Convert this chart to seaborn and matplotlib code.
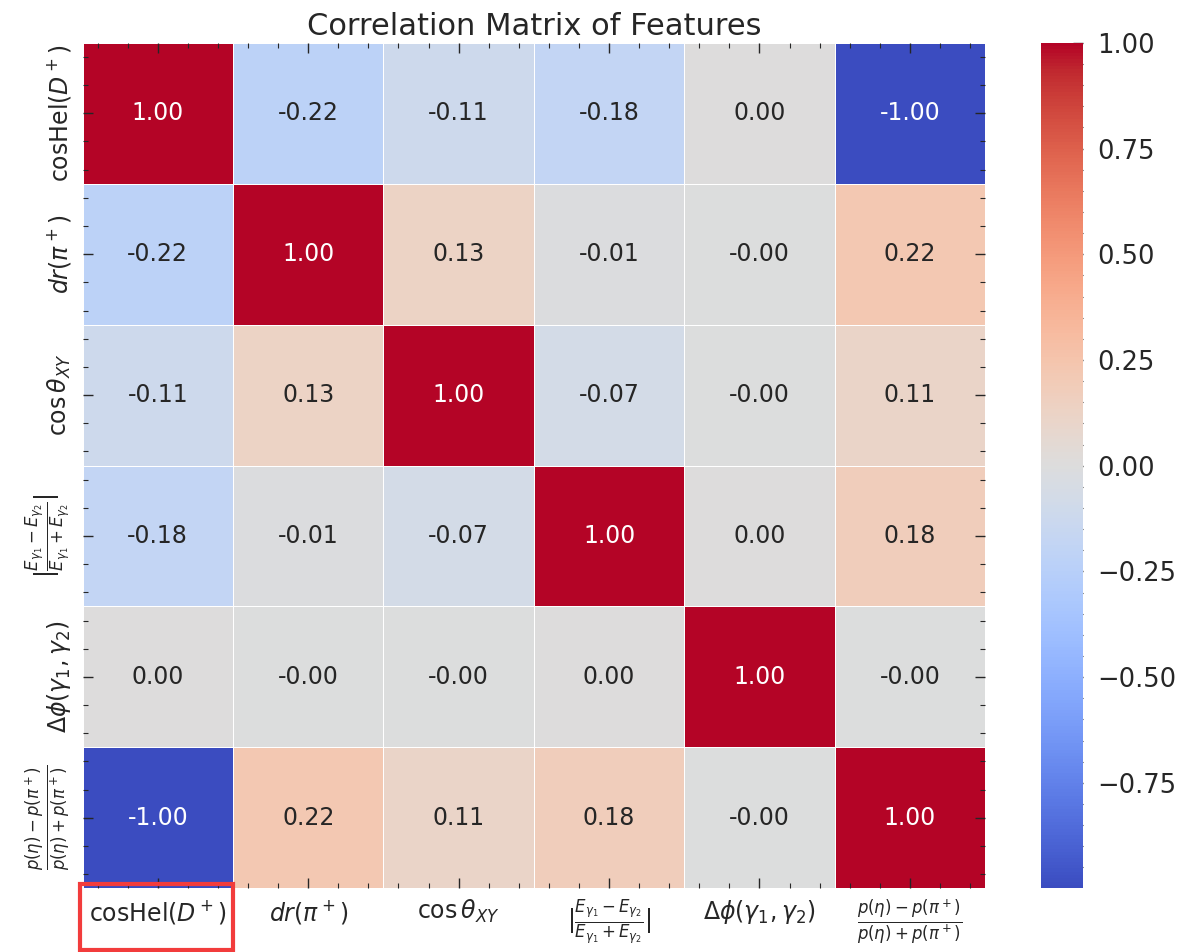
import numpy as np
import pandas as pd
import matplotlib
matplotlib.use("Agg")
import matplotlib.pyplot as plt
import matplotlib.patches as patches
import seaborn as sns

# feature labels (mathtext)
features = [
    r'cosHel$(D^+)$',
    r'$dr(\pi^+)$',
    r'$\cos\theta_{XY}$',
    r'$|\frac{E_{\gamma_1} - E_{\gamma_2}}{E_{\gamma_1} + E_{\gamma_2}}|$',
    r'$\Delta\phi(\gamma_1, \gamma_2)$',
    r'$\frac{p(\eta) - p(\pi^+)}{p(\eta) + p(\pi^+)}$',
]

# correlation values, row by row
row_coshel = [1.00, -0.22, -0.11, -0.18, 0.002, -0.999]
row_dr = [-0.22, 1.00, 0.13, -0.01, -0.002, 0.22]
row_costheta = [-0.11, 0.13, 1.00, -0.07, -0.002, 0.11]
row_easym = [-0.18, -0.01, -0.07, 1.00, 0.002, 0.18]
row_dphi = [0.002, -0.002, -0.002, 0.002, 1.00, -0.002]
row_pasym = [-0.999, 0.22, 0.11, 0.18, -0.002, 1.00]

corr = pd.DataFrame([row_coshel, row_dr, row_costheta, row_easym, row_dphi, row_pasym],
                    index=features, columns=features)

sns.set_theme(style="white")
plt.rcParams.update({
    'xtick.direction': 'in',
    'ytick.direction': 'in',
    'xtick.top': True,
    'xtick.bottom': True,
    'ytick.left': True,
    'ytick.right': True,
    'xtick.minor.visible': True,
    'ytick.minor.visible': True,
})

fig = plt.figure(figsize=(11.97, 9.52), dpi=100)
ax = fig.add_axes([0.069, 0.067, 0.754, 0.888])
cax = fig.add_axes([0.870, 0.067, 0.035, 0.888])

sns.heatmap(corr, annot=True, fmt='.2f', cmap='coolwarm', linewidths=0.5, linecolor='white',
            annot_kws={'size': 17}, ax=ax, cbar_ax=cax)

ax.set_title('Correlation Matrix of Features', fontsize=22, pad=6)

# inward ticks on all four sides, minor ticks too
ax.minorticks_on()
ax.tick_params(which='both', direction='in', top=True, bottom=True, left=True, right=True,
               color='#262626', zorder=5)
ax.tick_params(which='major', length=7, width=1.0)
ax.tick_params(which='minor', length=3.5, width=0.8)
ax.tick_params(axis='x', which='major', labelsize=17, pad=7)
ax.tick_params(axis='y', which='major', labelsize=17, pad=7)
for t in ax.xaxis.get_major_ticks() + ax.xaxis.get_minor_ticks() + ax.yaxis.get_major_ticks() + ax.yaxis.get_minor_ticks():
    t.set_zorder(5)
ax.xaxis.set_zorder(5)
ax.yaxis.set_zorder(5)
plt.setp(ax.get_xticklabels(), rotation=0)
plt.setp(ax.get_yticklabels(), rotation=90, va='center')

cax.minorticks_on()
cax.tick_params(which='both', direction='in', right=True, left=False, color='#262626')
cax.tick_params(which='major', length=7, width=1.0, labelsize=18.5, pad=10)
cax.tick_params(which='minor', length=3.5, width=0.8)

# red highlight box around the first x label
box = patches.Rectangle((80 / 1197, 2 / 952), 153 / 1197, 66 / 952, transform=fig.transFigure,
                        fill=False, edgecolor='#f23c3c', linewidth=3, clip_on=False)
fig.patches.append(box)

fig.savefig('out.png', dpi=100)
